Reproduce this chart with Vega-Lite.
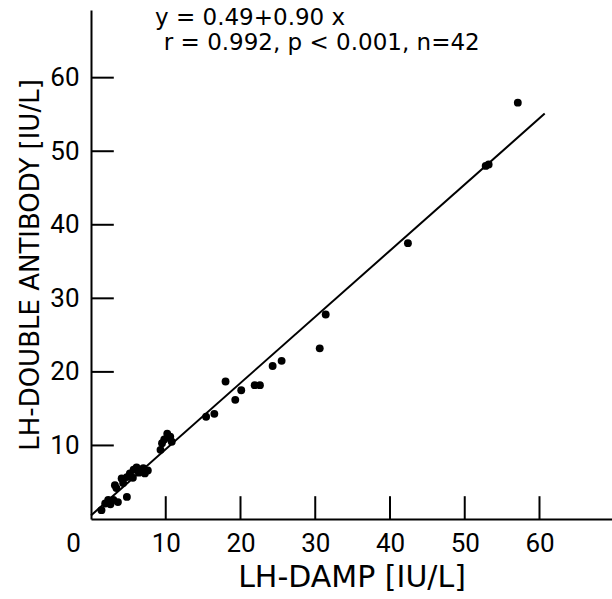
{
  "$schema": "https://vega.github.io/schema/vega-lite/v6.json",
  "width": 521,
  "height": 509,
  "autosize": {"type": "none"},
  "padding": {"left": 91, "top": 10, "right": 0, "bottom": 80},
  "background": "white",
  "config": {
    "view": {"stroke": null},
    "axis": {
      "grid": false,
      "ticks": false,
      "domainColor": "black",
      "domainWidth": 2,
      "labelColor": "black",
      "titleColor": "black",
      "labelFont": "Roboto",
      "labelFontSize": 26,
      "titleFont": "DejaVu Sans",
      "titleFontWeight": "normal"
    }
  },
  "datasets": {
    "points": [
      {"x": 57.1, "y": 56.6}, {"x": 52.8, "y": 48.0}, {"x": 53.2, "y": 48.2},
      {"x": 42.4, "y": 37.5}, {"x": 31.4, "y": 27.8}, {"x": 30.6, "y": 23.2},
      {"x": 25.5, "y": 21.5}, {"x": 24.3, "y": 20.8}, {"x": 18.0, "y": 18.7},
      {"x": 20.1, "y": 17.5}, {"x": 21.9, "y": 18.2}, {"x": 22.6, "y": 18.2},
      {"x": 19.3, "y": 16.2}, {"x": 16.5, "y": 14.3}, {"x": 15.4, "y": 13.9},
      {"x": 9.3, "y": 9.4}, {"x": 9.5, "y": 10.3}, {"x": 9.8, "y": 10.8},
      {"x": 10.2, "y": 11.6}, {"x": 10.6, "y": 11.2}, {"x": 10.8, "y": 10.5},
      {"x": 7.2, "y": 6.2}, {"x": 7.0, "y": 6.9}, {"x": 6.1, "y": 7.0},
      {"x": 5.7, "y": 6.7}, {"x": 5.2, "y": 6.2}, {"x": 4.8, "y": 5.7},
      {"x": 4.1, "y": 5.5}, {"x": 3.2, "y": 4.6}, {"x": 3.4, "y": 4.2},
      {"x": 4.3, "y": 4.9}, {"x": 4.8, "y": 3.0}, {"x": 3.0, "y": 2.6},
      {"x": 2.3, "y": 2.6}, {"x": 1.9, "y": 2.1}, {"x": 1.4, "y": 1.2},
      {"x": 2.6, "y": 2.0}, {"x": 3.6, "y": 2.3}, {"x": 5.6, "y": 5.6},
      {"x": 6.4, "y": 6.3}, {"x": 7.6, "y": 6.6}, {"x": 6.6, "y": 6.6}
    ],
    "fit": [{"x": 0, "y": 0.49}, {"x": 60.7, "y": 55.12}],
    "tickvals": [{"v": 10}, {"v": 20}, {"v": 30}, {"v": 40}, {"v": 50}, {"v": 60}],
    "notes": [
      {"x": 34.0, "y": 68.1, "label": "y = 0.49+0.90 x"},
      {"x": 52.0, "y": 64.7, "label": "r = 0.992, p < 0.001, n=42"}
    ]
  },
  "layer": [
    {
      "data": {"name": "fit"},
      "mark": {"type": "line", "color": "black", "strokeWidth": 2},
      "encoding": {
        "x": {
          "field": "x", "type": "quantitative",
          "scale": {"domain": [0, 69.7], "nice": false, "zero": false},
          "axis": {
            "title": "LH-DAMP [IU/L]",
            "titleFontSize": 30,
            "titlePadding": 6,
            "values": [0, 10, 20, 30, 40, 50, 60],
            "labelPadding": 11,
            "labelFlush": false,
            "labelOffset": {"condition": {"test": "datum.value === 0", "value": -18}, "value": 0}
          }
        },
        "y": {
          "field": "y", "type": "quantitative",
          "scale": {"domain": [0, 69.2], "nice": false, "zero": false},
          "axis": {
            "title": "LH-DOUBLE ANTIBODY [IU/L]",
            "titleFontSize": 26,
            "titlePadding": 6,
            "values": [10, 20, 30, 40, 50, 60],
            "labelPadding": 12,
            "labelFlush": false
          }
        }
      }
    },
    {
      "data": {"name": "tickvals"},
      "mark": {"type": "rule", "color": "black", "strokeWidth": 2},
      "encoding": {
        "x": {"field": "v", "type": "quantitative"},
        "y": {"datum": 0},
        "y2": {"datum": 3.1}
      }
    },
    {
      "data": {"name": "tickvals"},
      "mark": {"type": "rule", "color": "black", "strokeWidth": 2},
      "encoding": {
        "y": {"field": "v", "type": "quantitative"},
        "x": {"datum": 0},
        "x2": {"datum": 3.05}
      }
    },
    {
      "data": {"name": "points"},
      "mark": {"type": "circle", "size": 62, "opacity": 1, "color": "black"},
      "encoding": {
        "x": {"field": "x", "type": "quantitative"},
        "y": {"field": "y", "type": "quantitative"}
      }
    },
    {
      "data": {"name": "notes"},
      "mark": {"type": "text", "align": "right", "baseline": "middle", "fontSize": 23, "font": "DejaVu Sans", "color": "black"},
      "encoding": {
        "x": {"field": "x", "type": "quantitative"},
        "y": {"field": "y", "type": "quantitative"},
        "text": {"field": "label"}
      }
    }
  ]
}
